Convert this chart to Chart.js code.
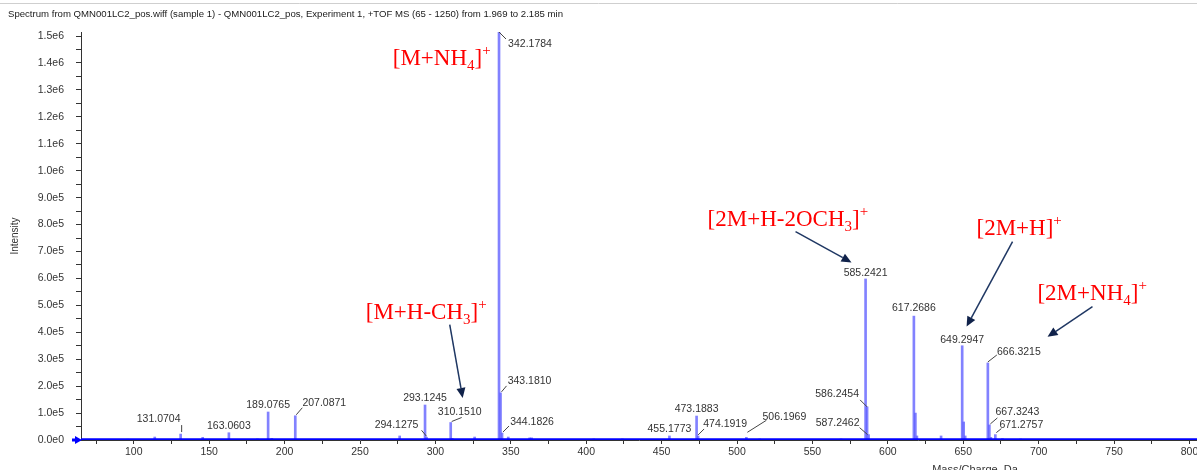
<!DOCTYPE html>
<html>
<head>
<meta charset="utf-8">
<script src="https://cdn.jsdelivr.net/npm/chart.js@4.4.1/dist/chart.umd.min.js"></script>
<style>
  html, body { margin: 0; padding: 0; background: #fff; }
  canvas { display: block; }
</style>
</head>
<body>
<canvas id="spectrum" width="1197" height="470"></canvas>
<script>
// spectrum sticks: m/z and intensity (counts)
const peakMz = [
  96.0, 113.9, 131.0704, 145.7, 163.0603, 182.0, 189.0765, 191.5, 207.0871, 276.3,
  293.1245, 294.1275, 310.1510, 311.15, 326.0, 342.1784, 343.1810, 344.1826, 348.3, 362.5,
  363.8, 405.0, 424.0, 455.1773, 473.1883, 474.1919, 506.1969, 515.0, 569.0, 585.2421,
  586.2454, 587.2462, 617.2686, 618.2720, 619.27, 635.3, 649.2947, 650.2980, 651.30, 666.3215,
  667.3243, 668.33, 671.2757, 676.0, 688.0
]
const peakIntensity = [
  3000, 11000, 22000, 10000, 27000, 4000, 104000, 6000, 90000, 15000,
  130000, 10000, 65000, 6000, 11000, 1515000, 175000, 26000, 11000, 8000,
  8000, 4000, 4000, 15000, 89000, 15000, 10000, 4000, 4000, 598000,
  123000, 20000, 460000, 100000, 15000, 15000, 350000, 67000, 15000, 286000,
  56000, 10000, 20000, 5000, 4000
]
const baselineMz = [65, 805]
const baselineIntensity = [2500, 2500]

const xTickLabels = [100, 150, 200, 250, 300, 350, 400, 450, 500, 550, 600, 650, 700, 750, 800]
const yTickLabels = [0, 1e5, 2e5, 3e5, 4e5, 5e5, 6e5, 7e5, 8e5, 9e5, 1e6, 1.1e6, 1.2e6, 1.3e6, 1.4e6, 1.5e6]

// which peaks carry an m/z label
const labelMz = [
  131.0704, 163.0603, 189.0765, 207.0871, 293.1245, 294.1275, 310.1510, 342.1784, 343.1810, 344.1826,
  455.1773, 473.1883, 474.1919, 506.1969, 585.2421, 586.2454, 587.2462, 617.2686, 649.2947, 666.3215,
  667.3243, 671.2757
]
// ion assignments
const ionNames = ['[M+NH4]+', '[M+H-CH3]+', '[2M+H-2OCH3]+', '[2M+H]+', '[2M+NH4]+']

const titleText = 'Spectrum from QMN001LC2_pos.wiff (sample 1) - QMN001LC2_pos, Experiment 1, +TOF MS (65 - 1250) from 1.969 to 2.185 min'

// label placement relative to peak top (px): text centre dx,dy and leader line
const labelLayout = [
  { dx: -22, dy: -15, lead: [1, -2, 1, -9] },
  { dx: 0, dy: -7 },
  { dx: 0, dy: -7 },
  { dx: 29, dy: -13, lead: [1, -1, 7, -8] },
  { dx: 0, dy: -7 },
  { dx: -30, dy: -12, lead: [0, -1, -5, -7] },
  { dx: 9, dy: -10, lead: [1, -1, 11, -5] },
  { dx: 31, dy: 12, lead: [0, 0, 7, 7] },
  { dx: 29, dy: -12, lead: [1, -1, 6, -7] },
  { dx: 30, dy: -11, lead: [1, -1, 7, -7] },
  { dx: 0, dy: -7 },
  { dx: 0, dy: -7 },
  { dx: 27, dy: -12, lead: [0, -1, 6, -7] },
  { dx: 38, dy: -20, lead: [1, -5, 20, -17] },
  { dx: 0, dy: -6 },
  { dx: -30, dy: -13, lead: [0, 0, -7, -7] },
  { dx: -31, dy: -12, lead: [-1, 0, -9, -7] },
  { dx: 0, dy: -8 },
  { dx: 0, dy: -6 },
  { dx: 31, dy: -11, lead: [0, -1, 9, -8] },
  { dx: 28, dy: -13, lead: [1, -1, 8, -7] },
  { dx: 26, dy: -10, lead: [1, -2, 6, -6] }
]
// ion text (left, baseline) and arrows, in data units
const ionLayout = [
  { at: [271.7, 1392000] },
  { at: [253.8, 450000], arrow: [309.5, 428000, 318.1, 156000] },
  { at: [480.5, 793000], arrow: [538.8, 774000, 575.9, 659000] },
  { at: [658.8, 763000], arrow: [682.7, 737000, 652.2, 421000] },
  { at: [699.2, 521000], arrow: [735.7, 495000, 705.9, 383000] }
]

const sans = '"Liberation Sans", Arial, sans-serif'
const serif = '"Liberation Serif", "Times New Roman", serif'

function ionParts(name) {
  const parts = []
  for (let i = 0; i < name.length; i++) {
    const c = name[i]
    let mode = 'n'
    if (/[0-9]/.test(c) && /[A-Z]/.test(name[i - 1] || '')) mode = 'sub'
    if (c === '+' && name[i - 1] === ']') mode = 'sup'
    const last = parts[parts.length - 1]
    if (last && last.mode === mode) last.text += c
    else parts.push({ text: c, mode: mode })
  }
  return parts
}

function arrow(ctx, x1, y1, x2, y2) {
  const a = Math.atan2(y2 - y1, x2 - x1)
  const len = 10, w = 4.5
  const bx = x2 - Math.cos(a) * len, by = y2 - Math.sin(a) * len
  ctx.beginPath()
  ctx.moveTo(x1, y1)
  ctx.lineTo(bx, by)
  ctx.stroke()
  ctx.beginPath()
  ctx.moveTo(x2, y2)
  ctx.lineTo(bx + Math.sin(a) * w, by - Math.cos(a) * w)
  ctx.lineTo(bx - Math.sin(a) * w, by + Math.cos(a) * w)
  ctx.closePath()
  ctx.fill()
}

const overlay = {
  id: 'overlay',
  afterDraw(chart) {
    const { ctx } = chart
    const x = chart.scales.x, y = chart.scales.y
    ctx.save()

    // header line and title
    ctx.strokeStyle = '#cfcfcf'
    ctx.lineWidth = 1
    ctx.beginPath()
    ctx.moveTo(0, 3.5)
    ctx.lineTo(chart.width, 3.5)
    ctx.stroke()
    ctx.fillStyle = '#1a1a1a'
    ctx.font = '9.6px ' + sans
    ctx.textAlign = 'left'
    ctx.textBaseline = 'middle'
    ctx.fillText(titleText, 8, 14)

    // axis titles
    ctx.fillStyle = '#333'
    ctx.font = '10px ' + sans
    ctx.save()
    ctx.translate(15, 236)
    ctx.rotate(-Math.PI / 2)
    ctx.textAlign = 'center'
    ctx.fillText('Intensity', 0, 0)
    ctx.restore()
    ctx.textAlign = 'center'
    ctx.textBaseline = 'top'
    ctx.font = '11px ' + sans
    ctx.fillText('Mass/Charge, Da', 975, 464)

    // threshold marker at zero
    const y0 = y.getPixelForValue(0)
    ctx.fillStyle = '#0000ff'
    ctx.beginPath()
    ctx.moveTo(x.left + 1, y0)
    ctx.lineTo(x.left - 6, y0 - 4)
    ctx.lineTo(x.left - 6, y0 + 4)
    ctx.closePath()
    ctx.fill()
    ctx.fillRect(x.left - 9, y0 - 1.5, 4, 3)

    // m/z labels
    ctx.font = '10.5px ' + sans
    ctx.textAlign = 'center'
    ctx.textBaseline = 'middle'
    ctx.strokeStyle = '#444'
    ctx.lineWidth = 1
    labelMz.forEach((mz, i) => {
      const k = peakMz.indexOf(mz)
      const px = x.getPixelForValue(mz)
      const py = y.getPixelForValue(peakIntensity[k])
      const l = labelLayout[i]
      ctx.fillStyle = '#333'
      ctx.fillText(mz.toFixed(4), px + l.dx, py + l.dy)
      if (l.lead) {
        ctx.beginPath()
        ctx.moveTo(px + l.lead[0], py + l.lead[1])
        ctx.lineTo(px + l.lead[2], py + l.lead[3])
        ctx.stroke()
      }
    })

    // ion assignments
    ionNames.forEach((name, i) => {
      const lay = ionLayout[i]
      let tx = x.getPixelForValue(lay.at[0])
      const ty = y.getPixelForValue(lay.at[1])
      ctx.fillStyle = '#ff0000'
      ctx.textAlign = 'left'
      ctx.textBaseline = 'alphabetic'
      ionParts(name).forEach(p => {
        let dy = 0
        if (p.mode === 'n') ctx.font = '23px ' + serif
        else ctx.font = '15px ' + serif
        if (p.mode === 'sub') dy = 5
        if (p.mode === 'sup') dy = -10
        ctx.fillText(p.text, tx, ty + dy)
        tx += ctx.measureText(p.text).width
      })
      if (lay.arrow) {
        ctx.strokeStyle = '#1f3763'
        ctx.fillStyle = '#10224a'
        ctx.lineWidth = 1.5
        arrow(ctx,
          x.getPixelForValue(lay.arrow[0]), y.getPixelForValue(lay.arrow[1]),
          x.getPixelForValue(lay.arrow[2]), y.getPixelForValue(lay.arrow[3]))
      }
    })
    ctx.restore()
  }
}

const stepTicks = (from, to, step) => {
  const t = []
  for (let v = from; v <= to + 1e-9; v += step) t.push({ value: Math.round(v) })
  return t
}

const spectrumChart = new Chart(document.getElementById('spectrum'), {
  type: 'bar',
  data: {
    datasets: [
      {
        type: 'bar',
        data: peakMz.map((m, i) => ({ x: m, y: peakIntensity[i] })),
        backgroundColor: 'rgba(95, 95, 255, 0.78)',
        barThickness: 2,
        order: 2
      },
      {
        type: 'line',
        data: baselineMz.map((m, i) => ({ x: m, y: baselineIntensity[i] })),
        borderColor: '#0000ff',
        borderWidth: 2,
        pointRadius: 0,
        order: 1
      }
    ]
  },
  options: {
    responsive: false,
    animation: false,
    devicePixelRatio: 1,
    layout: { padding: { top: 32, left: 0, right: 0, bottom: 0 } },
    plugins: { legend: { display: false }, tooltip: { enabled: false } },
    scales: {
      x: {
        type: 'linear',
        offset: false,
        min: 65,
        max: 805,
        border: { color: '#333' },
        grid: { drawOnChartArea: false, offset: false, tickLength: 4, color: '#333' },
        ticks: {
          autoSkip: false,
          maxRotation: 0,
          padding: 2,
          color: '#333',
          font: { family: sans, size: 10.5 },
          callback: v => xTickLabels.includes(v) ? String(v) : ''
        },
        afterBuildTicks: s => { s.ticks = stepTicks(75, 800, 25) },
        afterFit: s => { s.height = 30; s.paddingLeft = 0; s.paddingRight = 0 }
      },
      y: {
        min: 0,
        max: 1515000,
        border: { color: '#333' },
        grid: { drawOnChartArea: false, tickLength: 5, color: '#333' },
        ticks: {
          autoSkip: false,
          padding: 12,
          color: '#333',
          font: { family: sans, size: 10.5 },
          callback: v => yTickLabels.includes(v) ? v.toExponential(1).replace('+', '') : ''
        },
        afterBuildTicks: s => { s.ticks = stepTicks(0, 1500000, 50000) },
        afterFit: s => { s.width = 81 }
      }
    }
  },
  plugins: [overlay]
})
</script>
</body>
</html>
